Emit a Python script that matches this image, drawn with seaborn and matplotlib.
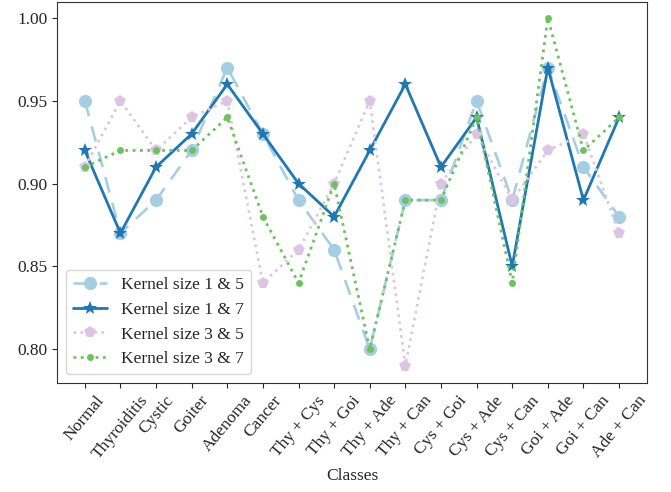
import matplotlib
matplotlib.use('Agg')
from matplotlib import pyplot as plt
import pandas as pd
import seaborn as sns

# Klasser och noggrannhet per kärnstorlek
classes = ['Normal', 'Thyroiditis', 'Cystic', 'Goiter', 'Adenoma', 'Cancer',
           'Thy + Cys', 'Thy + Goi', 'Thy + Ade', 'Thy + Can', 'Cys + Goi',
           'Cys + Ade', 'Cys + Can', 'Goi + Ade', 'Goi + Can', 'Ade + Can']
k15 = [0.95, 0.87, 0.89, 0.92, 0.97, 0.93, 0.89, 0.86, 0.80, 0.89, 0.89, 0.95, 0.89, 0.97, 0.91, 0.88]
k17 = [0.92, 0.87, 0.91, 0.93, 0.96, 0.93, 0.90, 0.88, 0.92, 0.96, 0.91, 0.94, 0.85, 0.97, 0.89, 0.94]
k35 = [0.91, 0.95, 0.92, 0.94, 0.95, 0.84, 0.86, 0.90, 0.95, 0.79, 0.90, 0.93, 0.89, 0.92, 0.93, 0.87]
k37 = [0.91, 0.92, 0.92, 0.92, 0.94, 0.88, 0.84, 0.90, 0.80, 0.89, 0.89, 0.94, 0.84, 1.00, 0.92, 0.94]

df = pd.DataFrame({'Classes': classes, 'k15': k15, 'k17': k17, 'k35': k35, 'k37': k37})

sns.set_style('ticks')
plt.rcParams['font.family'] = ['Liberation Serif', 'DejaVu Serif']
plt.rcParams['font.size'] = 12.5

fig, ax = plt.subplots(figsize=(6.71, 4.92), dpi=100)

sns.lineplot(data=df, x='Classes', y='k15', ax=ax, sort=False, color='#a6cee3',
             linestyle=(0, (6, 4)), linewidth=1.9, marker='o', markersize=9.5,
             markeredgewidth=0, label='Kernel size 1 & 5')
sns.lineplot(data=df, x='Classes', y='k17', ax=ax, sort=False, color='#1f78b4',
             linestyle='-', linewidth=2.0, marker='*', markersize=10,
             markeredgewidth=0, label='Kernel size 1 & 7')
sns.lineplot(data=df, x='Classes', y='k35', ax=ax, sort=False, color='#dcc5e3',
             linestyle=':', linewidth=1.9, marker='p', markersize=8.5,
             markeredgewidth=0, label='Kernel size 3 & 5')
sns.lineplot(data=df, x='Classes', y='k37', ax=ax, sort=False, color='#6cc35e',
             linestyle=':', linewidth=2.0, marker='o', markersize=5,
             markeredgewidth=0, label='Kernel size 3 & 7')

ax.set_xlim(-0.78, 15.78)
ax.set_ylim(0.7795, 1.0097)
ax.set_yticks([0.80, 0.85, 0.90, 0.95, 1.00])
ax.set_yticklabels(['0.80', '0.85', '0.90', '0.95', '1.00'])
ax.set_ylabel('')
ax.set_xlabel('Classes')
ax.tick_params(axis='x', rotation=50)
for s in ax.spines.values():
    s.set_color('#333333')
ax.legend(loc='lower left')

plt.subplots_adjust(left=0.085, right=0.964, top=0.996, bottom=0.2215)
plt.savefig('out.png', dpi=100)
